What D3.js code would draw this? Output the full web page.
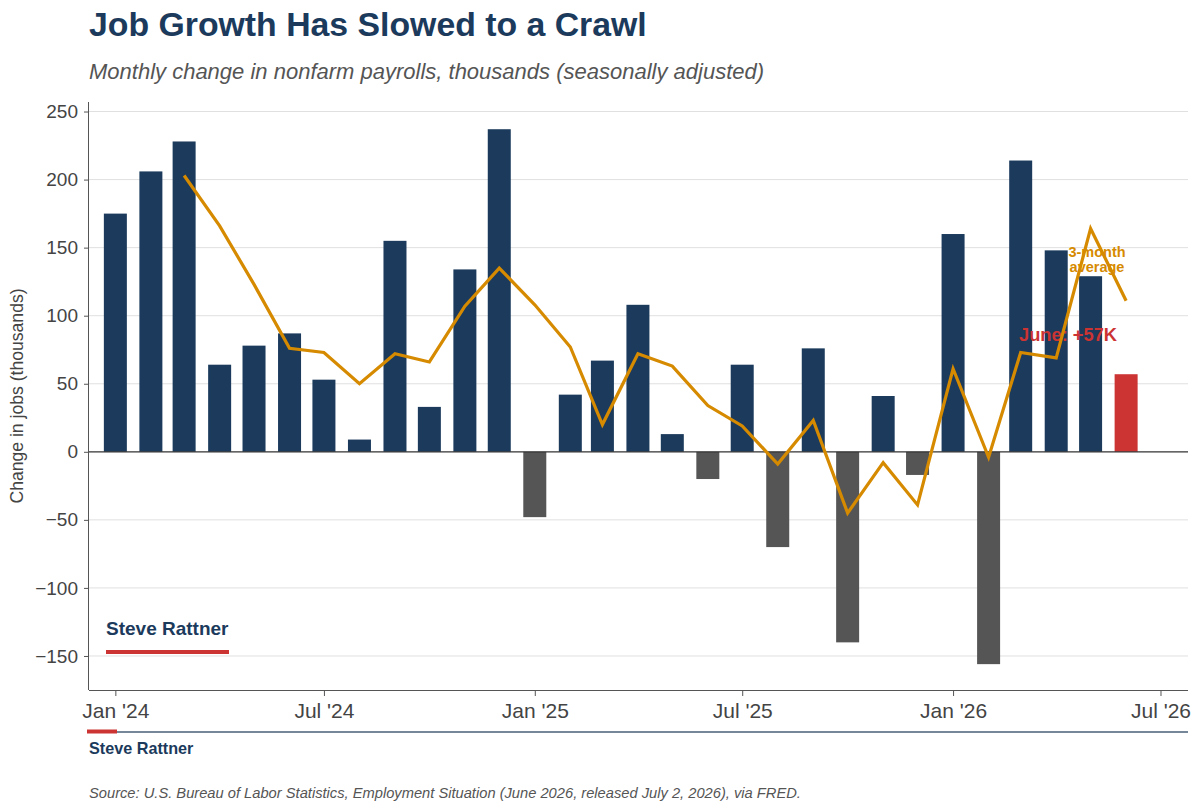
<!DOCTYPE html>
<html>
<head>
<meta charset="utf-8">
<script src="https://d3js.org/d3.v7.min.js"></script>
<style>
    body { margin: 0; background: #fff; }
    text { font-family: "Liberation Sans", Arial, Helvetica, sans-serif; }
    .tick text { fill: #444; font-size: 19px; }
    .x-axis .tick text { font-size: 21px; }
</style>
</head>
<body>
<svg id="vis"></svg>
<script>
    var width = 1200,
        height = 812;

    // monthly payroll change, thousands (Jan 2024 - Jun 2026)
    var months = [
        "2024-01", "2024-02", "2024-03", "2024-04", "2024-05", "2024-06",
        "2024-07", "2024-08", "2024-09", "2024-10", "2024-11", "2024-12",
        "2025-01", "2025-02", "2025-03", "2025-04", "2025-05", "2025-06",
        "2025-07", "2025-08", "2025-09", "2025-10", "2025-11", "2025-12",
        "2026-01", "2026-02", "2026-03", "2026-04", "2026-05", "2026-06"
    ];
    var jobs = [
        175, 206, 228, 64, 78, 87,
        53, 9, 155, 33, 134, 237,
        -48, 42, 67, 108, 13, -20,
        64, -70, 76, -140, 41, -17,
        160, -156, 214, 148, 129, 57
    ];
    // 3-month average (starts Mar 2024)
    var avgMonths = months.slice(2);
    var avg3 = [
        203, 166, 123, 76, 73, 50,
        72, 66, 107, 135, 108, 77,
        20, 72, 63, 34, 19, -9,
        23, -45, -8, -39, 61, -4,
        73, 69, 164, 111
    ];
    var yTicks = [-150, -100, -50, 0, 50, 100, 150, 200, 250];
    var xTicks = ["2024-01", "2024-07", "2025-01", "2025-07", "2026-01", "2026-07"];

    var navy = "#1b3a5c",
        gray = "#555555",
        red = "#cc3333",
        orange = "#d68a00";

    var parse = d3.timeParse("%Y-%m");
    var margin = { left: 89, right: 12, top: 102, bottom: 122 };

    var svg = d3.select("#vis").attr("width", width).attr("height", height);

    // scales
    var x = d3.scaleTime()
        .domain([new Date(2023, 11, 9), new Date(2026, 6, 25)])
        .range([margin.left, width - margin.right]);
    var y = d3.scaleLinear()
        .domain([-175, 257])
        .range([height - margin.bottom, margin.top]);

    var barW = 23;

    // title
    svg.append("text")
        .attr("x", 89).attr("y", 36)
        .attr("fill", navy)
        .style("font-size", "33.8px")
        .style("font-weight", "bold")
        .text("Job Growth Has Slowed to a Crawl");

    svg.append("text")
        .attr("x", 89).attr("y", 79)
        .attr("fill", "#555")
        .style("font-size", "22px")
        .style("font-style", "italic")
        .text("Monthly change in nonfarm payrolls, thousands (seasonally adjusted)");

    // gridlines
    svg.append("g")
        .selectAll("line")
        .data(yTicks.filter(d => d !== 0))
        .enter().append("line")
        .attr("x1", margin.left).attr("x2", width - margin.right)
        .attr("y1", d => y(d)).attr("y2", d => y(d))
        .attr("stroke", "#e0e0e0")
        .attr("stroke-width", 1);

    // bars
    svg.append("g")
        .selectAll("rect")
        .data(jobs)
        .enter().append("rect")
        .attr("x", (d, i) => x(parse(months[i])) - barW / 2)
        .attr("width", barW)
        .attr("y", d => y(Math.max(0, d)))
        .attr("height", d => Math.abs(y(d) - y(0)))
        .attr("fill", (d, i) => i === jobs.length - 1 ? red : (d < 0 ? gray : navy));

    // zero line
    svg.append("line")
        .attr("x1", margin.left).attr("x2", width - margin.right)
        .attr("y1", y(0)).attr("y2", y(0))
        .attr("stroke", "#333")
        .attr("stroke-width", 1.3);

    // axes
    var yAxis = svg.append("g")
        .attr("transform", `translate(${margin.left},0)`)
        .call(d3.axisLeft(y).tickValues(yTicks).tickSize(5).tickPadding(6)
            .tickFormat(d => d < 0 ? "\u2212" + Math.abs(d) : d));
    yAxis.select(".domain").attr("stroke", "#555").attr("d", `M-0.5,${margin.top}V${height - margin.bottom}`);
    yAxis.selectAll(".tick line").attr("stroke", "#555");

    var xAxis = svg.append("g")
        .attr("class", "x-axis")
        .attr("transform", `translate(0,${height - margin.bottom})`)
        .call(d3.axisBottom(x).tickValues(xTicks.map(parse)).tickSize(6).tickPadding(7)
            .tickFormat(d3.timeFormat("%b '%y")));
    xAxis.select(".domain").attr("stroke", "#555").attr("d", `M${margin.left},0.5H${width - margin.right}`);
    xAxis.selectAll(".tick line").attr("stroke", "#555");

    svg.append("text")
        .attr("transform", `translate(23,${(margin.top + height - margin.bottom) / 2}) rotate(-90)`)
        .attr("text-anchor", "middle")
        .attr("fill", "#444")
        .style("font-size", "17.6px")
        .text("Change in jobs (thousands)");

    // annotations (under the line)
    svg.append("text")
        .attr("x", 1019).attr("y", 341)
        .attr("fill", red)
        .style("font-size", "18.3px")
        .style("font-weight", "bold")
        .text("June: +57K");

    var avgLabel = svg.append("text")
        .attr("x", 1097).attr("y", 257)
        .attr("text-anchor", "middle")
        .attr("fill", orange)
        .style("font-size", "14.5px")
        .style("font-weight", "bold");
    avgLabel.append("tspan").attr("x", 1097).text("3-month");
    avgLabel.append("tspan").attr("x", 1097).attr("dy", 15).text("average");

    // 3-month average line
    var line = d3.line()
        .x((d, i) => x(parse(avgMonths[i])))
        .y(d => y(d));
    svg.append("path")
        .datum(avg3)
        .attr("d", line)
        .attr("fill", "none")
        .attr("stroke", orange)
        .attr("stroke-width", 3.2)
        .attr("stroke-linejoin", "miter");

    // in-chart signature
    svg.append("text")
        .attr("x", 106).attr("y", 635)
        .attr("fill", navy)
        .style("font-size", "19px")
        .style("font-weight", "bold")
        .text("Steve Rattner");
    svg.append("line")
        .attr("x1", 106).attr("x2", 229)
        .attr("y1", 652).attr("y2", 652)
        .attr("stroke", red)
        .attr("stroke-width", 4);

    // footer
    svg.append("line")
        .attr("x1", 87).attr("x2", width - margin.right)
        .attr("y1", 732).attr("y2", 732)
        .attr("stroke", "#4a5f78")
        .attr("stroke-width", 1.5);
    svg.append("line")
        .attr("x1", 87).attr("x2", 117)
        .attr("y1", 731.5).attr("y2", 731.5)
        .attr("stroke", red)
        .attr("stroke-width", 4);
    svg.append("text")
        .attr("x", 89).attr("y", 754)
        .attr("fill", navy)
        .style("font-size", "16.2px")
        .style("font-weight", "bold")
        .text("Steve Rattner");
    svg.append("text")
        .attr("x", 89).attr("y", 798)
        .attr("fill", "#555")
        .style("font-size", "14.7px")
        .style("font-style", "italic")
        .text("Source: U.S. Bureau of Labor Statistics, Employment Situation (June 2026, released July 2, 2026), via FRED.");
</script>
</body>
</html>
